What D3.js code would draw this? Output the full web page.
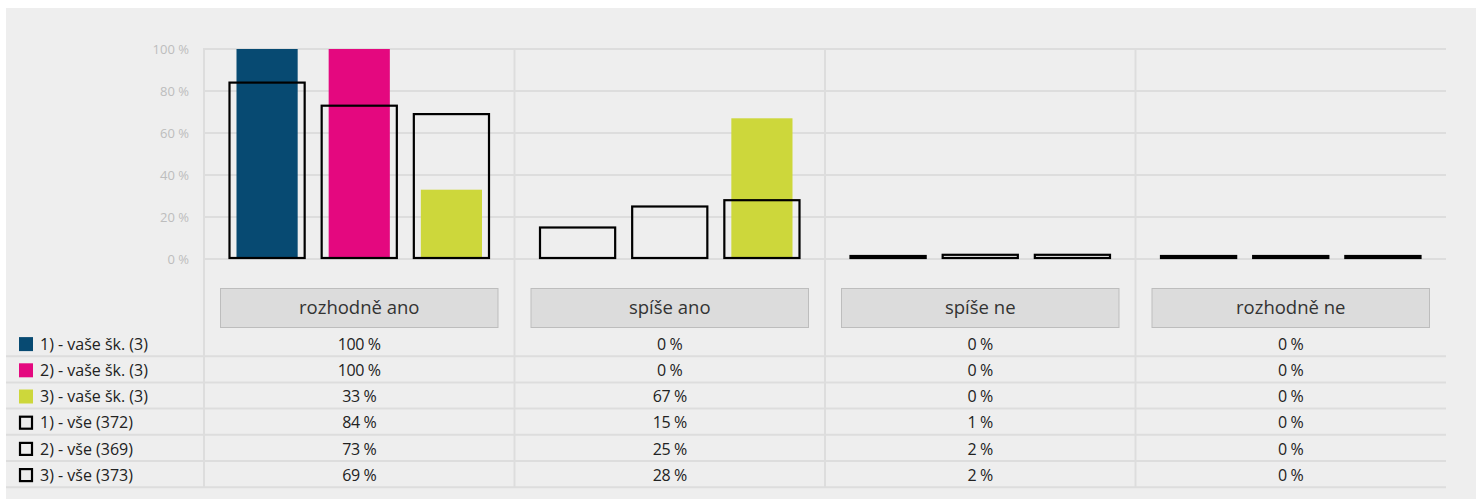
<!DOCTYPE html>
<html><head><meta charset="utf-8">
<script src="https://cdn.jsdelivr.net/npm/d3@7"></script>
<style>
html,body{margin:0;padding:0;background:#fff;}
svg{display:block;font-family:"Open Sans",sans-serif;}
</style></head>
<body><svg id="c" width="1476" height="499"></svg>
<script>
const categories = ["rozhodně ano", "spíše ano", "spíše ne", "rozhodně ne"];
const fillSeriesNames = ["1) - vaše šk. (3)", "2) - vaše šk. (3)", "3) - vaše šk. (3)"];
const fillSeriesColors = ["#074a72", "#e4087f", "#cdd73b"];
const fill1 = [100, 0, 0, 0];
const fill2 = [100, 0, 0, 0];
const fill3 = [33, 67, 0, 0];
const outlineSeriesNames = ["1) - vše (372)", "2) - vše (369)", "3) - vše (373)"];
const outline1 = [84, 15, 1, 0];
const outline2 = [73, 25, 2, 0];
const outline3 = [69, 28, 2, 0];
const yTicks = [0, 20, 40, 60, 80, 100];

const fills = [fill1, fill2, fill3];
const outlines = [outline1, outline2, outline3];

const svg = d3.select("#c");
svg.append("rect").attr("x",6).attr("y",8).attr("width",1470).attr("height",491).attr("fill","#eeeeee");

const x0 = d3.scaleBand().domain(categories).range([204, 1446]).padding(0);
const x1 = d3.scaleBand().domain([0,1,2]).range([17, x0.bandwidth()-17]).padding(0);
const y = d3.scaleLinear().domain([0,100]).range([259, 49]);

// horizontal gridlines
svg.append("g").selectAll("line").data(yTicks).join("line")
  .attr("x1",204).attr("x2",1446)
  .attr("y1",d=>y(d)).attr("y2",d=>y(d))
  .attr("stroke","#dddddd").attr("stroke-width",2);

// y labels
svg.append("g").selectAll("text").data(yTicks).join("text")
  .attr("x",189).attr("y",d=>y(d)).attr("dy","0.35em")
  .attr("text-anchor","end").attr("font-size",13).attr("fill","#bdbdbd")
  .text(d=>d+" %");

// table rows
const rowTop = 330, rowH = 26.2;
const rowNames = fillSeriesNames.concat(outlineSeriesNames);
const rowVals = fills.concat(outlines);
const tableBottom = rowTop + rowH*rowNames.length;

// vertical gridlines
svg.append("g").selectAll("line").data(categories).join("line")
  .attr("x1",d=>x0(d)).attr("x2",d=>x0(d))
  .attr("y1",48).attr("y2",tableBottom)
  .attr("stroke","#dddddd").attr("stroke-width",2);

// row separator lines
svg.append("g").selectAll("line").data(rowNames).join("line")
  .attr("x1",6).attr("x2",1446)
  .attr("y1",(d,i)=>rowTop+rowH*(i+1)).attr("y2",(d,i)=>rowTop+rowH*(i+1))
  .attr("stroke","#dddddd").attr("stroke-width",2);

// filled bars
const gf = svg.append("g");
fills.forEach((vals,si)=>{
  gf.selectAll(null).data(vals.map((v,ci)=>({v,ci}))).join("rect")
    .attr("x",d=>x0(categories[d.ci])+x1(si)+15.5)
    .attr("width",x1.bandwidth()-31)
    .attr("y",d=>y(d.v)).attr("height",d=>y(0)-y(d.v))
    .attr("fill",fillSeriesColors[si]);
});
// outline bars
const go = svg.append("g");
outlines.forEach((vals,si)=>{
  go.selectAll(null).data(vals.map((v,ci)=>({v,ci}))).join("rect")
    .attr("x",d=>x0(categories[d.ci])+x1(si)+8.5)
    .attr("width",x1.bandwidth()-17)
    .attr("y",d=>Math.min(y(d.v), y(0)-3))
    .attr("height",d=>Math.max(y(0)-1-y(d.v), 2))
    .attr("fill","none").attr("stroke","#000").attr("stroke-width",2.2);
});

// category boxes
const gc = svg.append("g");
gc.selectAll("rect").data(categories).join("rect")
  .attr("x",d=>x0(d)+16.5).attr("y",288.5)
  .attr("width",x0.bandwidth()-33).attr("height",39)
  .attr("fill","#dcdcdc").attr("stroke","#bdbdbd").attr("stroke-width",1);
gc.selectAll("text").data(categories).join("text")
  .attr("x",d=>x0(d)+x0.bandwidth()/2).attr("y",308).attr("dy","0.35em")
  .attr("text-anchor","middle").attr("font-size",18.5).attr("fill","#333")
  .text(d=>d);

// table legend & values
const gt = svg.append("g");
rowNames.forEach((name,ri)=>{
  const cy = rowTop + rowH*ri + rowH/2 + 1;
  if (ri < 3) {
    gt.append("rect").attr("x",19).attr("y",cy-7).attr("width",14).attr("height",14).attr("fill",fillSeriesColors[ri]);
  } else {
    gt.append("rect").attr("x",20).attr("y",cy-6).attr("width",12).attr("height",12).attr("fill","none").attr("stroke","#000").attr("stroke-width",2.2);
  }
  gt.append("text").attr("x",40).attr("y",cy).attr("dy","0.35em")
    .attr("font-size",16).attr("fill","#222").text(name);
  gt.selectAll(null).data(rowVals[ri].map((v,ci)=>({v,ci}))).join("text")
    .attr("x",d=>x0(categories[d.ci])+x0.bandwidth()/2).attr("y",cy).attr("dy","0.35em")
    .attr("text-anchor","middle").attr("font-size",16).attr("fill","#222").attr("letter-spacing","-0.4")
    .text(d=>d.v+" %");
});
</script></body></html>
